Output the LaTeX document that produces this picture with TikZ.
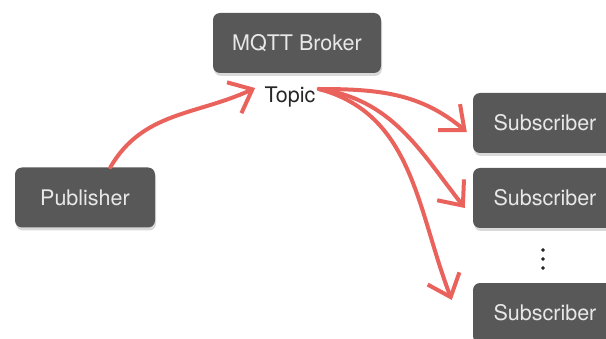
\documentclass[tikz,border=0pt]{standalone}
\usepackage{fontspec}
\setmainfont{TeX Gyre Heros}
\usepackage{tikz}
\usetikzlibrary{arrows.meta}
\usetikzlibrary{shadows}
\usepackage{xcolor}
\definecolor{rouge}{RGB}{234,98,92}
\definecolor{gris}{RGB}{88,88,88}
\definecolor{grisclair}{RGB}{232,232,232}

\begin{document}
\begin{tikzpicture}[x=1pt,y=1pt,
    boite/.style={rectangle, rounded corners=7pt, fill=gris, text=grisclair, minimum height=60pt,
        drop shadow={opacity=0.3, shadow xshift=1pt, shadow yshift=-3pt}, font=\fontsize{21.5}{26}\selectfont},
    fleche/.style={rouge, line width=4pt, line cap=round, line join=round, -{Straight Barb[length=20pt,width=34pt]}}]
    % cadre
    \useasboundingbox (0,0) rectangle (606,338);
    % boites
    \node[boite, minimum width=168pt] (broker) at (297,295) {MQTT Broker};
    \node[boite, minimum width=140pt] (pub) at (85,140.5) {Publisher};
    \node[boite, minimum width=144pt] (sub1) at (545,215) {Subscriber};
    \node[boite, minimum width=144pt] (sub2) at (545,140) {Subscriber};
    \node[boite, minimum width=144pt] (sub3) at (545,25) {Subscriber};
    \node[font=\fontsize{21.5}{26}\selectfont, text=black!85] (topic) at (290,241) {Topic};
    % points
    \filldraw[black!85] (543,88) circle(1.6pt);
    \filldraw[black!85] (543,79) circle(1.6pt);
    \filldraw[black!85] (543,70) circle(1.6pt);
    % fleches
    \draw[fleche] (pub.50) to[out=60,in=205] ([xshift=-6pt,yshift=9pt]topic.west);
    \draw[fleche] ([yshift=8pt]topic.east) to[out=0,in=140] ([xshift=-6pt,yshift=-9pt]sub1.west);
    \draw[fleche] ([yshift=8pt]topic.east) to[out=-8,in=128] ([xshift=-8pt,yshift=-10pt]sub2.west);
    \draw[fleche] ([yshift=8pt]topic.east) to[out=-15,in=111] ([xshift=-21pt,yshift=13pt]sub3.west);
\end{tikzpicture}
\end{document}
